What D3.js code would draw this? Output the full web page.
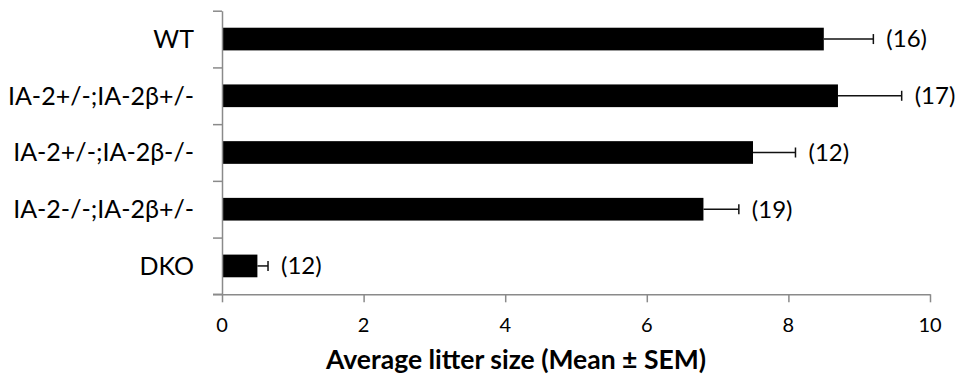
<!DOCTYPE html>
<html>
<head>
<meta charset="utf-8">
<script src="https://cdn.jsdelivr.net/npm/d3@7"></script>
<style>
  html, body { margin: 0; padding: 0; background: #fff; }
  svg { display: block; }
</style>
</head>
<body>
<svg id="chart" width="962" height="384"></svg>
<script>
// Litter size by genotype
const genotypes = ["WT", "IA-2+/-;IA-2β+/-", "IA-2+/-;IA-2β-/-", "IA-2-/-;IA-2β+/-", "DKO"];
const meanLitter = [8.5, 8.7, 7.5, 6.8, 0.5];
const semLitter = [0.7, 0.9, 0.6, 0.5, 0.15];
const litterCounts = [16, 17, 12, 19, 12];
const xTicks = [0, 2, 4, 6, 8, 10];
const xTitle = "Average litter size (Mean ± SEM)";

const svg = d3.select("#chart");
const font = "Lato, 'Open Sans', sans-serif";
const axisColor = "#8a8a8a";

const plotLeft = 222, plotRight = 930, plotTop = 10.7, plotBottom = 294.3;

const x = d3.scaleLinear().domain([0, 10]).range([plotLeft, plotRight]);
const y = d3.scaleBand().domain(genotypes).range([plotTop, plotBottom])
  .paddingInner(0.6).paddingOuter(0.3);
const yEdge = d3.scaleLinear().domain([0, genotypes.length]).range([plotTop, plotBottom]);

const rows = genotypes.map((g, i) => ({
  name: g, mean: meanLitter[i], sem: semLitter[i], n: litterCounts[i]
}));

// Bars
svg.append("g").selectAll("rect").data(rows).join("rect")
  .attr("x", x(0))
  .attr("y", d => y(d.name))
  .attr("width", d => x(d.mean) - x(0))
  .attr("height", y.bandwidth())
  .attr("fill", "#000");

// Positive error whiskers
const eb = svg.append("g").attr("stroke", "#111").attr("stroke-width", 1.5);
rows.forEach(d => {
  const cy = y(d.name) + y.bandwidth() / 2;
  eb.append("line").attr("x1", x(d.mean)).attr("x2", x(d.mean + d.sem))
    .attr("y1", cy).attr("y2", cy);
  eb.append("line").attr("x1", x(d.mean + d.sem)).attr("x2", x(d.mean + d.sem))
    .attr("y1", cy - 5).attr("y2", cy + 5);
});

// Group size labels
svg.append("g").selectAll("text").data(rows).join("text")
  .attr("x", d => x(d.mean + d.sem) + 13)
  .attr("y", d => y(d.name) + y.bandwidth() / 2)
  .attr("dy", "0.35em")
  .attr("font-family", font).attr("font-size", 24).attr("fill", "#000")
  .text(d => `(${d.n})`);

// Y axis with ticks at category boundaries
const yAxis = svg.append("g").attr("transform", `translate(${plotLeft},0)`)
  .call(d3.axisLeft(yEdge).tickValues(d3.range(genotypes.length + 1))
    .tickSize(9).tickSizeOuter(0).tickFormat(""));
yAxis.selectAll("line, path").attr("stroke", axisColor).attr("stroke-width", 1.5);

// Category labels
svg.append("g").selectAll("text").data(genotypes).join("text")
  .attr("x", 194)
  .attr("y", d => y(d) + y.bandwidth() / 2)
  .attr("dy", "0.35em")
  .attr("text-anchor", "end")
  .attr("font-family", font).attr("font-size", 25).attr("fill", "#000")
  .text(d => d);

// X axis
const xAxis = svg.append("g").attr("transform", `translate(0,${plotBottom})`)
  .call(d3.axisBottom(x).tickValues(xTicks).tickSize(8).tickSizeOuter(0).tickFormat(""));
xAxis.selectAll("line, path").attr("stroke", axisColor).attr("stroke-width", 1.5);
// extend the baseline to meet the lowest y tick
svg.append("line").attr("x1", plotLeft - 9).attr("x2", plotLeft)
  .attr("y1", plotBottom).attr("y2", plotBottom)
  .attr("stroke", axisColor).attr("stroke-width", 1.5);

svg.append("g").selectAll("text").data(xTicks).join("text")
  .attr("x", d => x(d)).attr("y", 332)
  .attr("text-anchor", "middle")
  .attr("font-family", font).attr("font-size", 20).attr("fill", "#000")
  .text(d => d);

svg.append("text")
  .attr("x", 516).attr("y", 369)
  .attr("text-anchor", "middle")
  .attr("font-family", font).attr("font-size", 26.5).attr("font-weight", "bold")
  .attr("fill", "#000")
  .text(xTitle);
</script>
</body>
</html>
